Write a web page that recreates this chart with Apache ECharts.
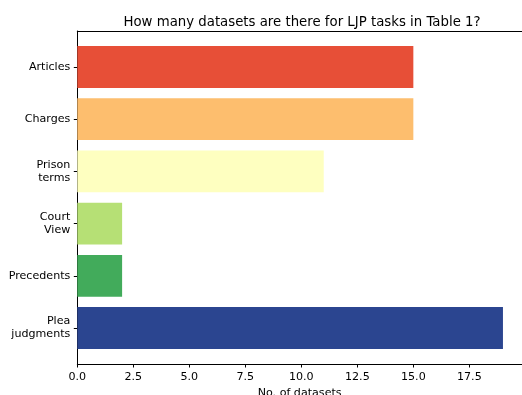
<!DOCTYPE html>
<html><head><meta charset="utf-8">
<script src="https://cdn.jsdelivr.net/npm/echarts@6/dist/echarts.min.js"></script>
<style>html,body{margin:0;padding:0;background:#fff}#c{width:522px;height:395px}</style>
</head><body><div id="c"></div>
<script>
const categories = ['Articles', 'Charges', 'Prison\nterms', 'Court\nView', 'Precedents', 'Plea\njudgments'];
const values = [15, 15, 11, 2, 2, 19];
const colors = ['#e74f37', '#fdbe6e', '#feffc0', '#b6e075', '#42ab5b', '#2b4590'];
const xTicks = [0, 2.5, 5, 7.5, 10, 12.5, 15, 17.5];
const xMax = 19.85;
const F = 'DejaVu Sans';
const chart = echarts.init(document.getElementById('c'));
const L = 77.3, W = 444.7;
chart.setOption({
  animation: false,
  title: {text: 'How many datasets are there for LJP tasks in Table 1?', left: 297, top: 11, textAlign: 'center',
    textStyle: {fontFamily: F, fontSize: 13.3, fontWeight: 'normal', color: '#000'}},
  grid: [
    {left: L, width: W, top: 31, height: 333, outerBoundsMode: 'none', containLabel: false},
    {left: L, width: W, top: 40.9, height: 313.2, outerBoundsMode: 'none', containLabel: false}
  ],
  xAxis: [
    {gridIndex: 0, type: 'value', min: 0, max: xMax, interval: 2.5, position: 'bottom',
      name: 'No. of datasets', nameLocation: 'middle', nameGap: 23,
      nameTextStyle: {fontFamily: F, fontSize: 11.1, color: '#000', verticalAlign: 'top'},
      axisLine: {show: true, lineStyle: {color: '#000', width: 1}},
      axisTick: {show: true, length: 3.5, lineStyle: {color: '#000'}},
      axisLabel: {fontFamily: F, fontSize: 11.1, color: '#000', margin: 8, showMaxLabel: false,
        formatter: v => xTicks.indexOf(v) >= 0 ? v.toFixed(1) : ''},
      splitLine: {show: false}},
    {gridIndex: 0, type: 'value', min: 0, max: xMax, position: 'top',
      axisLine: {show: true, lineStyle: {color: '#000', width: 1}},
      axisTick: {show: false}, axisLabel: {show: false}, splitLine: {show: false}},
    {gridIndex: 1, type: 'value', min: 0, max: xMax, show: false}
  ],
  yAxis: [
    {gridIndex: 0, type: 'value', min: 0, max: 1,
      axisLine: {show: true, lineStyle: {color: '#000', width: 1}},
      axisTick: {show: false}, axisLabel: {show: false}, splitLine: {show: false}},
    {gridIndex: 1, type: 'category', data: categories, inverse: true,
      axisLine: {show: false},
      axisTick: {show: true, alignWithLabel: true, length: 3.5, lineStyle: {color: '#000'}},
      axisLabel: {fontFamily: F, fontSize: 11.1, color: '#000', margin: 7, align: 'right', lineHeight: 13}}
  ],
  series: [{
    type: 'bar', xAxisIndex: 2, yAxisIndex: 1, barWidth: '80%',
    data: values.map((v, i) => ({value: v, itemStyle: {color: colors[i]}}))
  }]
});
</script></body></html>
